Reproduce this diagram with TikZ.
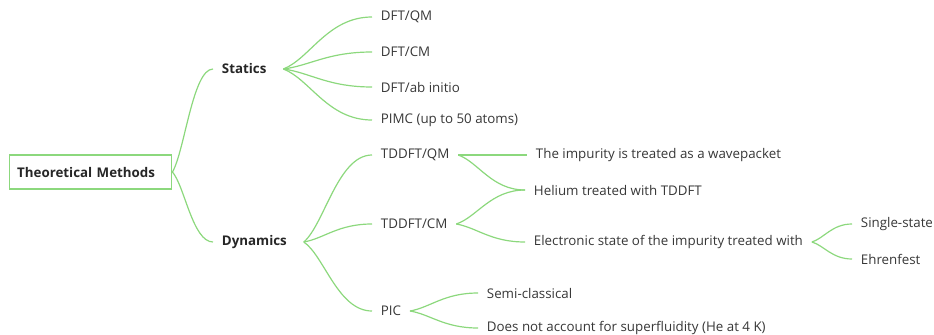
\documentclass[tikz,border=0pt]{standalone}
\usepackage{fontspec}
\setmainfont{Open Sans}
\usepackage{tikz}
\usetikzlibrary{positioning}
\usetikzlibrary{calc}

\definecolor{mmgreen}{RGB}{140,216,125}
\definecolor{mmtext}{RGB}{55,55,55}

\tikzset{
  topic/.style={anchor=west,inner xsep=6.5pt,inner ysep=2pt,text=mmtext},
  maintopic/.style={topic,font=\fontsize{10}{12}\selectfont\bfseries,text=black!85},
  rootbox/.style={draw=mmgreen,line width=0.9pt,text=black!85,
    font=\fontsize{10}{12}\selectfont\bfseries,
    minimum width=122pt,minimum height=25.5pt,
    inner xsep=6pt,text width=110pt,align=left},
  branch/.style={draw=mmgreen,line width=0.9pt,
    to path={let \p1=(\tikztostart), \p2=(\tikztotarget) in
      .. controls +({0.3*(\x2-\x1)},{0.2*(\y2-\y1)})
         and +({-0.5*(\x2-\x1)},0) .. (\tikztotarget)}}
}

\begin{document}
\begin{tikzpicture}[x=0.75pt,y=-0.75pt,font=\fontsize{10}{12}\selectfont]
    \useasboundingbox (0,0) rectangle (934,335);
    % root and main branches
    \node[rootbox] (root) at (90.5,172) {Theoretical Methods};
    \node[maintopic] (st) at (213,69) {Statics};
    \node[maintopic] (dy) at (213,242) {Dynamics};
    % statics
    \node[topic] (dftqm) at (372,17) {DFT/QM};
    \node[topic] (dftcm) at (372,52) {DFT/CM};
    \node[topic] (dftab) at (372,87) {DFT/ab initio};
    \node[topic] (pimc) at (372,120) {PIMC (up to 50 atoms)};
    % dynamics
    \node[topic] (tdqm) at (372,155) {TDDFT/QM};
    \node[topic] (tdcm) at (372,224) {TDDFT/CM};
    \node[topic] (pic) at (372,311) {PIC};
    \node[topic] (wave) at (527,155) {The impurity is treated as a wavepacket};
    \node[topic] (helium) at (525,190) {Helium treated with TDDFT};
    \node[topic] (elec) at (525,242) {Electronic state of the impurity treated with};
    \node[topic] (single) at (852,224) {Single-state};
    \node[topic] (ehren) at (852,259) {Ehrenfest};
    \node[topic] (semi) at (478,293) {Semi-classical};
    \node[topic] (superfl) at (478,328) {Does not account for superfluidity (He at 4 K)};

    \path (root.east) edge[branch] (st.west);
    \path (root.east) edge[branch] (dy.west);
    \path ([xshift=6pt]st.east) edge[branch] (dftqm.west);
    \path ([xshift=6pt]st.east) edge[branch] (dftcm.west);
    \path ([xshift=6pt]st.east) edge[branch] (dftab.west);
    \path ([xshift=6pt]st.east) edge[branch] (pimc.west);
    \path ([xshift=6pt]dy.east) edge[branch] (tdqm.west);
    \path ([xshift=6pt]dy.east) edge[branch] (tdcm.west);
    \path ([xshift=6pt]dy.east) edge[branch] (pic.west);
    \path (tdqm.east) edge[branch] (wave.west);
    \path (tdqm.east) edge[branch] (helium.west);
    \path (tdcm.east) edge[branch] (helium.west);
    \path (tdcm.east) edge[branch] (elec.west);
    \path (elec.east) edge[branch] (single.west);
    \path (elec.east) edge[branch] (ehren.west);
    \path (pic.east) edge[branch] (semi.west);
    \path (pic.east) edge[branch] (superfl.west);
\end{tikzpicture}
\end{document}
